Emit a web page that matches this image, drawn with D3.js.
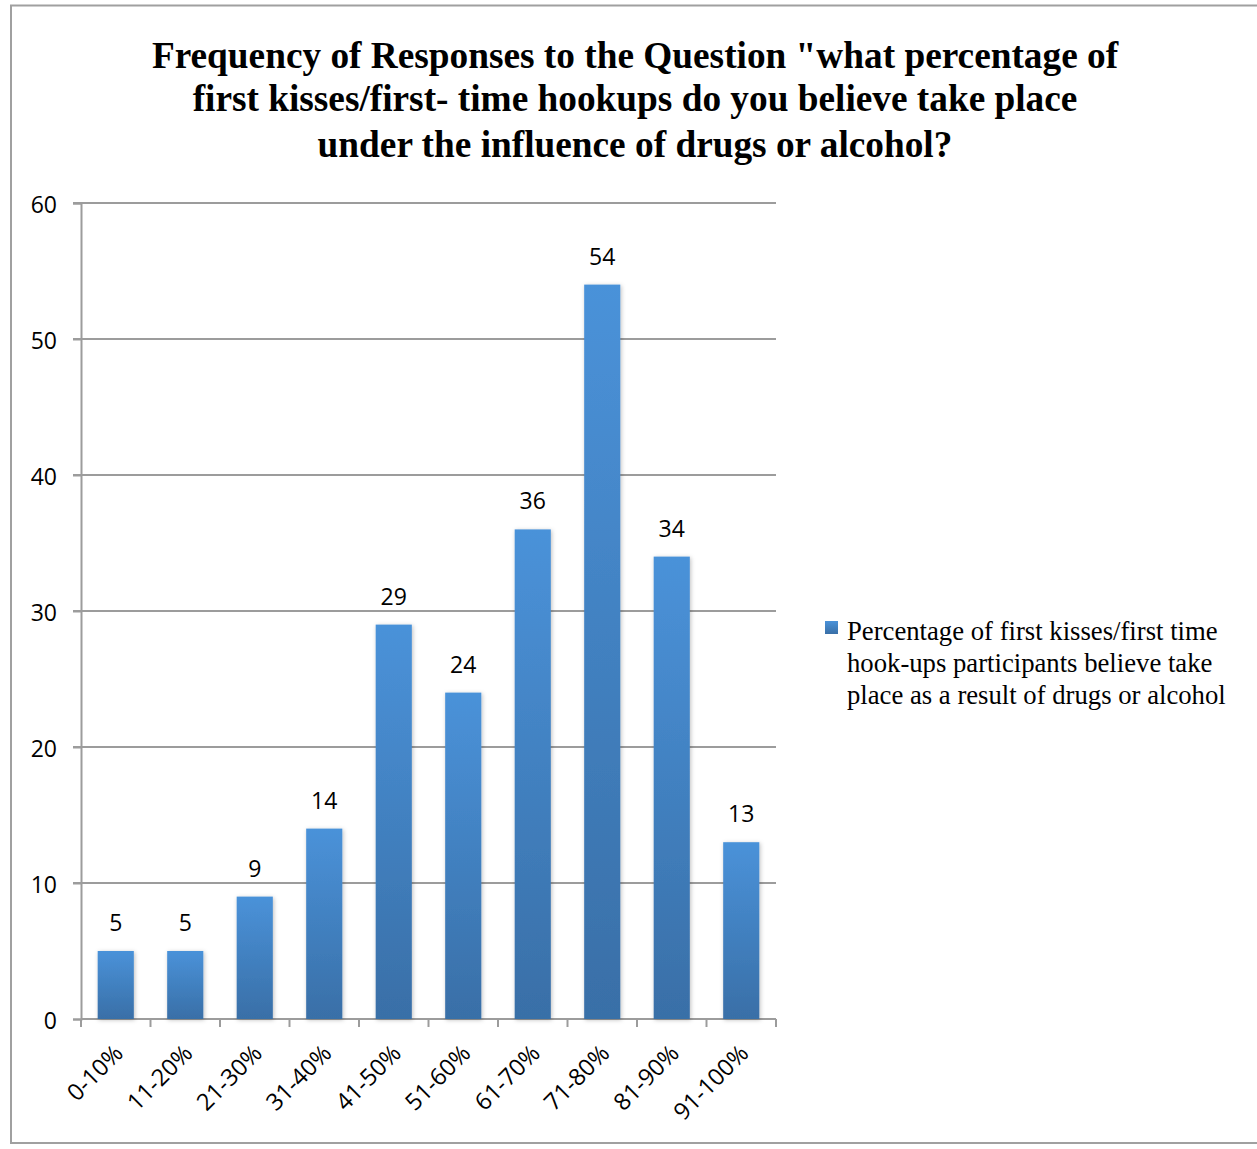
<!DOCTYPE html>
<html>
<head>
<meta charset="utf-8">
<script src="https://cdn.jsdelivr.net/npm/d3@7"></script>
<style>
  html, body { margin: 0; padding: 0; background: #fff; }
  svg { display: block; }
</style>
</head>
<body>
<svg id="chart" width="1257" height="1149"></svg>
<script>
// Survey response counts per perceived-percentage bucket
const categories = ["0-10%", "11-20%", "21-30%", "31-40%", "41-50%", "51-60%", "61-70%", "71-80%", "81-90%", "91-100%"];
const counts = [5, 5, 9, 14, 29, 24, 36, 54, 34, 13];
const yTicks = [0, 10, 20, 30, 40, 50, 60];
const titleLines = [
  "Frequency of Responses to the Question \"what percentage of",
  "first kisses/first- time hookups do you believe take place",
  "under the influence of drugs or alcohol?"
];
const legendLines = [
  "Percentage of first kisses/first time",
  "hook-ups participants believe take",
  "place as a result of drugs or alcohol"
];

(function draw() {
  const svg = d3.select("#chart");
  const sansFont = "'Open Sans', 'Liberation Sans', sans-serif";
  const serifFont = "'Liberation Serif', 'Times New Roman', serif";

  // Outer frame
  svg.append("rect")
    .attr("x", 11).attr("y", 5.5)
    .attr("width", 1260).attr("height", 1137.5)
    .attr("fill", "none").attr("stroke", "#a0a0a0").attr("stroke-width", 2);

  // Gradient and shadow for the bars
  const defs = svg.append("defs");
  const grad = defs.append("linearGradient").attr("id", "barGrad")
    .attr("x1", 0).attr("y1", 0).attr("x2", 0).attr("y2", 1);
  grad.append("stop").attr("offset", "0%").attr("stop-color", "#4a92d9");
  grad.append("stop").attr("offset", "100%").attr("stop-color", "#396fa7");
  const shadow = defs.append("filter").attr("id", "barShadow")
    .attr("x", "-30%").attr("y", "-10%").attr("width", "160%").attr("height", "130%");
  shadow.append("feDropShadow").attr("dx", 1).attr("dy", 1).attr("stdDeviation", 2)
    .attr("flood-color", "#000").attr("flood-opacity", 0.25);

  // Title
  svg.append("g").selectAll("text").data(titleLines).join("text")
    .attr("x", 635).attr("y", (d, i) => [68, 111, 157][i])
    .attr("text-anchor", "middle")
    .attr("font-family", serifFont)
    .attr("font-weight", "bold").attr("font-size", 37.3)
    .attr("fill", "#000")
    .text(d => d);

  const plotLeft = 81, plotRight = 776, plotTop = 203, plotBottom = 1019;

  const x = d3.scaleBand().domain(categories).range([plotLeft, plotRight]).paddingInner(0.48).paddingOuter(0.24);
  const y = d3.scaleLinear().domain([0, 60]).range([plotBottom, plotTop]);

  // Horizontal gridlines
  svg.append("g").selectAll("line").data(yTicks.filter(t => t > 0)).join("line")
    .attr("x1", plotLeft - 8).attr("x2", plotRight)
    .attr("y1", d => y(d)).attr("y2", d => y(d))
    .attr("stroke", "#9c9c9c").attr("stroke-width", 2);

  // Y axis
  const yAxis = svg.append("g").attr("transform", `translate(${plotLeft},0)`)
    .call(d3.axisLeft(y).tickValues(yTicks).tickSize(8).tickPadding(16));
  yAxis.select(".domain").attr("stroke", "#9c9c9c").attr("stroke-width", 2);
  yAxis.selectAll(".tick line").attr("stroke", "#9c9c9c").attr("stroke-width", 2);
  yAxis.selectAll(".tick text")
    .attr("dy", "0.42em")
    .attr("font-family", sansFont)
    .attr("font-size", 23).attr("fill", "#000");

  // X axis with ticks at category boundaries
  const boundaries = d3.range(categories.length + 1).map(i => plotLeft + i * (plotRight - plotLeft) / categories.length);
  const xAxisG = svg.append("g");
  xAxisG.append("line")
    .attr("x1", plotLeft).attr("x2", plotRight).attr("y1", plotBottom).attr("y2", plotBottom)
    .attr("stroke", "#9c9c9c").attr("stroke-width", 2);
  xAxisG.selectAll("line.tk").data(boundaries).join("line").attr("class", "tk")
    .attr("x1", d => d).attr("x2", d => d).attr("y1", plotBottom).attr("y2", plotBottom + 8)
    .attr("stroke", "#9c9c9c").attr("stroke-width", 2);

  // Bars
  svg.append("g").selectAll("rect").data(counts).join("rect")
    .attr("x", (d, i) => x(categories[i]))
    .attr("width", x.bandwidth())
    .attr("y", d => y(d))
    .attr("height", d => plotBottom - y(d))
    .attr("fill", "url(#barGrad)")
    .attr("filter", "url(#barShadow)");

  // Value labels
  svg.append("g").selectAll("text").data(counts).join("text")
    .attr("x", (d, i) => x(categories[i]) + x.bandwidth() / 2)
    .attr("y", d => y(d) - 20)
    .attr("text-anchor", "middle")
    .attr("font-family", sansFont)
    .attr("font-size", 23).attr("fill", "#000")
    .text(d => d);

  // Rotated category labels
  svg.append("g").selectAll("text").data(categories).join("text")
    .attr("transform", d => `translate(${x(d) + x.bandwidth() / 2 + 3},${plotBottom + 30}) rotate(-45)`)
    .attr("text-anchor", "end")
    .attr("dy", "0.35em")
    .attr("font-family", sansFont)
    .attr("font-size", 23.5).attr("fill", "#000")
    .text(d => d);

  // Legend
  svg.append("rect").attr("x", 825).attr("y", 621).attr("width", 13).attr("height", 13)
    .attr("fill", "url(#barGrad)");
  svg.append("g").selectAll("text").data(legendLines).join("text")
    .attr("x", 847).attr("y", (d, i) => 640 + i * 32)
    .attr("font-family", serifFont)
    .attr("font-size", 26.7).attr("fill", "#000")
    .text(d => d);
})();
</script>
</body>
</html>
